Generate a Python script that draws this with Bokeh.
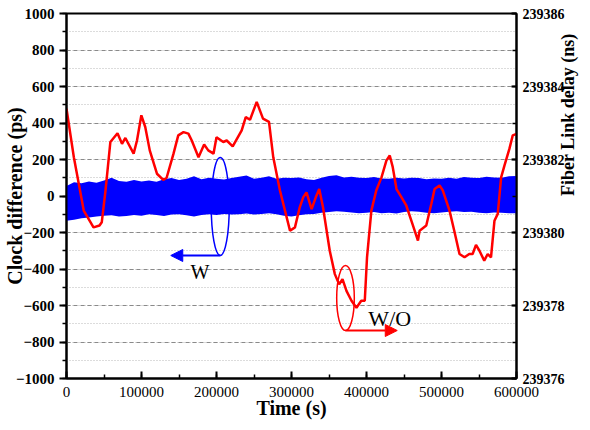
import math
from bokeh.plotting import figure
from bokeh.models import (Range1d, LinearAxis, SingleIntervalTicker, BasicTickFormatter,
                          Arrow, NormalHead, Label)
from bokeh.embed import file_html
from bokeh.resources import INLINE

# ---- data ----
# red trace: fiber link delay (ns) vs time (s)
red_time = [0, 9800, 23000, 36000, 44000, 47000, 52000, 58500, 68000, 74000, 78500,
            89500, 94000, 99800, 105000, 111000, 120600, 129000, 133500, 142700, 149000,
            156000, 162500, 167000, 176000, 183500, 189000, 196000, 200000, 209000, 213600,
            221600, 233600, 239000, 244700, 253600, 262000, 270000, 275700, 284600, 298000,
            304600, 311000, 315700, 320000, 326800, 332500, 337000, 342000, 351000, 357800,
            363500, 368000, 373300, 380000, 386600, 393000, 397700, 400700, 406500, 413000,
            420000, 426500, 431000, 435000, 440000, 446500, 453000, 462000, 468600, 470800,
            479700, 486400, 490800, 497400, 501800, 510700, 517000, 524000, 530700, 537000,
            541500, 546000, 550600, 557000, 561600, 566000, 570600, 575000, 579500, 584000,
            590500, 595000, 600000]
red_delay_ns = [239383.39, 239382.06, 239380.60, 239380.14, 239380.19, 239380.28, 239381.15,
                239382.48, 239382.72, 239382.43, 239382.59, 239382.16, 239382.52, 239383.21,
                239382.89, 239382.25, 239381.61, 239381.44, 239381.50, 239382.16, 239382.66,
                239382.75, 239382.71, 239382.52, 239382.06, 239382.41, 239382.25, 239382.16,
                239382.61, 239382.48, 239382.52, 239382.36, 239382.80, 239383.16, 239383.09,
                239383.58, 239383.12, 239383.03, 239382.06, 239381.15, 239380.05, 239380.14,
                239380.69, 239380.97, 239381.10, 239380.64, 239380.97, 239381.19, 239380.69,
                239379.50, 239378.86, 239378.58, 239378.72, 239378.40, 239378.13, 239377.94,
                239378.13, 239378.13, 239379.32, 239380.60, 239381.15, 239381.51, 239381.97,
                239382.11, 239381.79, 239381.19, 239380.97, 239380.74, 239380.19, 239379.78,
                239380.05, 239380.19, 239380.78, 239381.19, 239381.29, 239381.15, 239380.60,
                239380.05, 239379.41, 239379.32, 239379.41, 239379.41, 239379.66, 239379.50,
                239379.23, 239379.41, 239379.32, 239380.32, 239380.51, 239381.51, 239381.84,
                239382.29, 239382.66, 239382.70]

# blue band: clock difference (ps) envelope, every 10000 s
band_time = [0, 10000, 20000, 30000, 40000, 50000, 60000, 70000, 80000, 90000,
             100000, 110000, 120000, 130000, 140000, 150000, 160000, 170000, 180000, 190000,
             200000, 210000, 220000, 230000, 240000, 250000, 260000, 270000, 280000, 290000,
             300000, 310000, 320000, 330000, 340000, 350000, 360000, 370000, 380000, 390000,
             400000, 410000, 420000, 430000, 440000, 450000, 460000, 470000, 480000, 490000,
             500000, 510000, 520000, 530000, 540000, 550000, 560000, 570000, 580000, 590000,
             600000]
band_upper = [55, 75, 70, 80, 72, 85, 100, 82, 78, 88,
              80, 85, 78, 92, 98, 88, 95, 108, 92, 100,
              95, 90, 98, 105, 112, 95, 100, 108, 95, 100,
              98, 102, 92, 88, 100, 110, 114, 102, 105, 100,
              98, 104, 96, 95, 100, 96, 100, 98, 92, 96,
              95, 100, 94, 104, 100, 98, 106, 102, 100, 108,
              110]
band_lower = [-135, -130, -122, -118, -112, -108, -105, -112, -110, -104,
              -108, -100, -104, -110, -102, -100, -106, -112, -104, -100,
              -104, -98, -102, -100, -96, -102, -98, -95, -100, -108,
              -112, -105, -100, -98, -92, -88, -84, -86, -90, -94,
              -92, -88, -94, -92, -96, -88, -84, -86, -92, -94,
              -90, -86, -84, -88, -86, -92, -94, -90, -92, -94,
              -94]

# annotations (data units: time s, clock difference ps)
ell_x = [205000, 372000]
ell_y = [-58, -559]
ell_w = [24000, 23500]
ell_h = [537, 356]
ell_colors = ["#0000ff", "#ff0000"]
arrow_blue = (205000, -326, 139000, -326)
arrow_red = (372000, -737, 441000, -737)
text_w = (178000, -414, "W")
text_wo = (431000, -671, "W/O")

x_title = "Time (s)"
y_title = "Clock difference (ps)"
y2_title = "Fiber Link delay (ns)"

SERIF = "Liberation Serif"

p = figure(width=590, height=430, output_backend="svg", toolbar_location=None,
           x_range=Range1d(0, 600000), y_range=Range1d(-1000, 1000),
           min_border_left=66, min_border_right=73, min_border_top=13, min_border_bottom=52,
           background_fill_color="white", border_fill_color="white")
p.extra_y_ranges = {"ns": Range1d(239376, 239386)}

# bottom axis
xa = p.xaxis[0]
xa.ticker = SingleIntervalTicker(interval=100000, num_minor_ticks=2)
xa.formatter = BasicTickFormatter(use_scientific=False)
xa.major_label_text_font = SERIF
xa.major_label_text_font_size = "15px"
xa.major_label_text_color = "black"
xa.major_tick_in = 7
xa.major_tick_out = 0
xa.minor_tick_in = 4
xa.minor_tick_out = 0
xa.axis_line_width = 2
xa.major_tick_line_width = 2
xa.minor_tick_line_width = 1.5
xa.major_label_standoff = 8
xa.axis_label = x_title
xa.axis_label_text_font = SERIF
xa.axis_label_text_font_style = "bold"
xa.axis_label_text_font_size = "20px"
xa.axis_label_text_color = "black"
xa.axis_label_standoff = -3

# left axis
ya = p.yaxis[0]
ya.ticker = SingleIntervalTicker(interval=200, num_minor_ticks=2)
ya.formatter = BasicTickFormatter(use_scientific=False)
ya.major_label_text_font = SERIF
ya.major_label_text_font_style = "bold"
ya.major_label_text_font_size = "15px"
ya.major_label_text_color = "black"
ya.major_tick_in = 0
ya.major_tick_out = 7
ya.minor_tick_in = 0
ya.minor_tick_out = 4
ya.axis_line_width = 2
ya.major_tick_line_width = 2
ya.minor_tick_line_width = 1.5
ya.major_label_standoff = 5
ya.axis_label = y_title
ya.axis_label_text_font = SERIF
ya.axis_label_text_font_style = "bold"
ya.axis_label_text_font_size = "20px"
ya.axis_label_text_color = "black"
ya.axis_label_standoff = -13

# right axis
ra = LinearAxis(y_range_name="ns",
                ticker=SingleIntervalTicker(interval=2, num_minor_ticks=2),
                formatter=BasicTickFormatter(use_scientific=False))
ra.major_label_text_font = SERIF
ra.major_label_text_font_style = "bold"
ra.major_label_text_font_size = "14px"
ra.major_label_text_color = "black"
ra.major_tick_in = 5
ra.major_tick_out = 0
ra.minor_tick_in = 4
ra.minor_tick_out = 0
ra.axis_line_width = 2
ra.major_tick_line_width = 2
ra.minor_tick_line_width = 1.5
ra.major_label_standoff = 6
ra.axis_label = y2_title
ra.axis_label_text_font = SERIF
ra.axis_label_text_font_style = "bold"
ra.axis_label_text_font_size = "18px"
ra.axis_label_text_color = "black"
ra.axis_label_standoff = 0
ra.axis_label_orientation = math.pi / 2
p.add_layout(ra, "right")

# grid
p.xgrid.visible = False
p.ygrid.grid_line_color = "#8a8a8a"
p.ygrid.grid_line_dash = "4 3"
p.ygrid.grid_line_width = 1
p.ygrid.minor_grid_line_color = "#b8b8b8"
p.ygrid.minor_grid_line_dash = "1 2"
p.ygrid.minor_grid_line_width = 1

p.outline_line_color = "black"
p.outline_line_width = 2
p.outline_line_alpha = 1

# data
p.varea(x=band_time, y1=band_lower, y2=band_upper, fill_color="#0000ff")
p.line(red_time, red_delay_ns, y_range_name="ns", line_color="#ff0000", line_width=2.5)

p.ellipse(x=ell_x, y=ell_y, width=ell_w, height=ell_h, fill_color=None,
          line_color=ell_colors, line_width=1.5)

for (x0, y0, x1, y1), col in [(arrow_blue, "#0000ff"), (arrow_red, "#ff0000")]:
    p.add_layout(Arrow(x_start=x0, y_start=y0, x_end=x1, y_end=y1,
                       line_color=col, line_width=2,
                       end=NormalHead(size=12, fill_color=col, line_color=col)))

for (tx, ty, tt), fs in [(text_w, "20px"), (text_wo, "22px")]:
    p.add_layout(Label(x=tx, y=ty, text=tt, text_font=SERIF, text_font_size=fs,
                       text_align="center", text_baseline="middle", text_color="black"))

open("out.html", "w").write(file_html(p, INLINE))
